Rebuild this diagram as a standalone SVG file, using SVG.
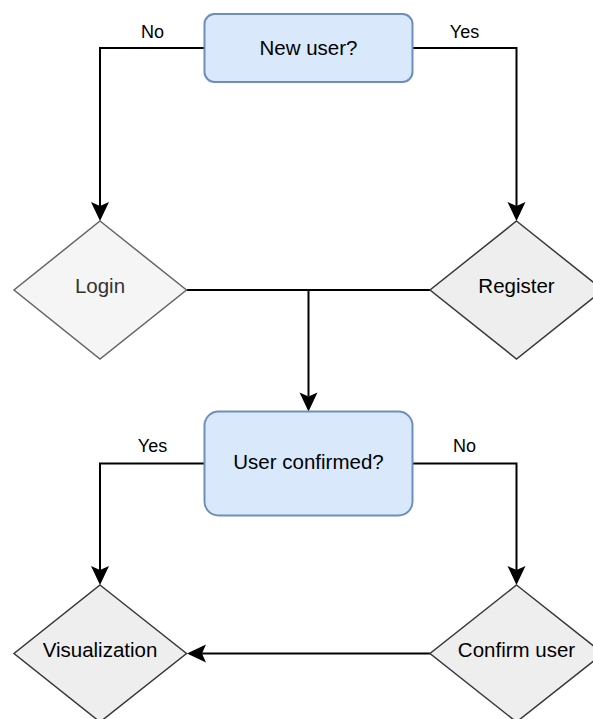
<svg xmlns="http://www.w3.org/2000/svg" width="593" height="719" viewBox="0 0 593 719">
  <style>
    .txt { font-family: "Liberation Sans", Arial, Helvetica, sans-serif; font-size: 20.5px; text-anchor: middle; fill: #000000; }
    .lbl { font-family: "Liberation Sans", Arial, Helvetica, sans-serif; font-size: 18px; text-anchor: middle; fill: #000000; }
    .decision { fill: #dae8fc; stroke: #6c8ebf; stroke-width: 2; }
    .step { fill: #eeeeee; stroke: #36393d; stroke-width: 1.5; }
    .step-light { fill: #f5f5f5; stroke: #666666; stroke-width: 1.5; }
    .edge { fill: none; stroke: #000000; stroke-width: 2; }
  </style>
  <defs>
    <marker id="arrow" markerUnits="userSpaceOnUse" markerWidth="20" markerHeight="20" refX="4" refY="9" orient="auto" overflow="visible">
      <path d="M0,0 L19,9 L0,18 L4,9 Z" fill="#000000"/>
    </marker>
  </defs>

  <rect width="593" height="719" fill="#ffffff"/>

  <!-- connectors -->
  <g id="connectors">
    <path class="edge" d="M204.5,48 H100 V206" marker-end="url(#arrow)"/>
    <path class="edge" d="M412.5,48 H516.5 V206" marker-end="url(#arrow)"/>
    <path class="edge" d="M186,290 H430"/>
    <path class="edge" d="M308.5,290 V396.5" marker-end="url(#arrow)"/>
    <path class="edge" d="M204.5,463.5 H100 V570" marker-end="url(#arrow)"/>
    <path class="edge" d="M412.5,463.5 H516.5 V570" marker-end="url(#arrow)"/>
    <path class="edge" d="M430,653.5 H202" marker-end="url(#arrow)"/>
    <text class="lbl" x="152.5" y="37.5">No</text>
    <text class="lbl" x="464.5" y="37.5">Yes</text>
    <text class="lbl" x="152.5" y="452">Yes</text>
    <text class="lbl" x="464.5" y="452">No</text>
  </g>

  <g id="new-user">
    <rect class="decision" x="204.5" y="14" width="208" height="68" rx="10" ry="10"/>
    <text class="txt" x="308.5" y="54.5">New user?</text>
  </g>

  <g id="login">
    <polygon class="step-light" points="100,221 186.5,290 100,359 14,290"/>
    <text class="txt" x="100" y="292.5" style="fill:#333333">Login</text>
  </g>

  <g id="register">
    <polygon class="step" points="516.5,221 603,290 516.5,359 430,290"/>
    <text class="txt" x="516.5" y="292.5">Register</text>
  </g>

  <g id="user-confirmed">
    <rect class="decision" x="204.5" y="411.5" width="208" height="104" rx="14" ry="14"/>
    <text class="txt" x="308.5" y="469">User confirmed?</text>
  </g>

  <g id="visualization">
    <polygon class="step" points="100,585 186.5,653.5 100,722 14,653.5"/>
    <text class="txt" x="100" y="656.5">Visualization</text>
  </g>

  <g id="confirm-user">
    <polygon class="step" points="516.5,585 603,653.5 516.5,722 430,653.5"/>
    <text class="txt" x="516.5" y="656.5">Confirm user</text>
  </g>
</svg>
